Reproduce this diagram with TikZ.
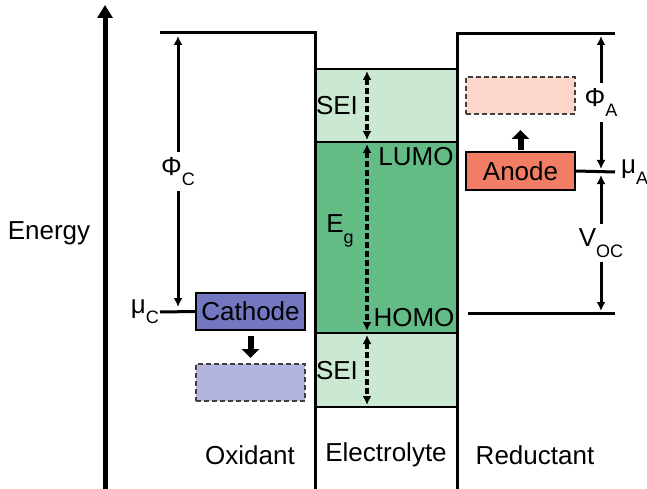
\documentclass[tikz,border=0pt]{standalone}
\usepackage{fontspec}
\setmainfont{Liberation Sans}
\usetikzlibrary{arrows.meta}
\definecolor{seigreen}{HTML}{CBE8D2}
\definecolor{gapgreen}{HTML}{63BC85}
\definecolor{cathblue}{HTML}{7377C0}
\definecolor{cathpale}{HTML}{B3B5E0}
\definecolor{anodered}{HTML}{F27D65}
\definecolor{anodepale}{HTML}{FCD6C8}
\newcommand{\lowsub}[1]{\raisebox{-0.75ex}{\fontsize{18}{20}\selectfont #1}}
\tikzset{
  elec/.style={draw, line width=2pt, minimum width=109pt, minimum height=37pt, inner sep=0pt},
  ghost/.style={draw=black!75, line width=2pt, dash pattern=on 5pt off 3pt, minimum width=109pt, minimum height=37pt},
  level/.style={line width=3pt},
  gaparrow/.style={line width=3pt, <->},
  seiarrow/.style={line width=3.5pt, <->, dash pattern=on 6pt off 3pt},
  movearrow/.style={line width=6pt, -{Triangle[width=17pt,length=9pt]}}
}
\begin{document}
\begin{tikzpicture}[x=1pt, y=-1pt, >={Latex[length=9pt,width=9pt]},
  every node/.style={font=\fontsize{26}{30}\selectfont}]
			\useasboundingbox (0,0) rectangle (647,489);
			% electrolyte window
			\fill[seigreen] (315,69) rectangle (457,142);
			\fill[gapgreen] (315,142) rectangle (457,333);
			\fill[seigreen] (315,333) rectangle (457,407);
			\foreach \y in {69, 142, 333, 407} {
					\draw[line width=2pt] (315,\y) -- (457,\y);
				}
			% energy axis
			\draw[line width=5pt, -{Triangle[width=15pt,length=13pt]}] (105,489) -- (105,5);
			\node (energy) at (49,233) {Energy};
			% oxidant and reductant walls
			\draw[level] (160,33) -- (315,33) -- (315,489);
			\draw[level] (457,489) -- (457,34) -- (615,34);
			\draw[level] (468,313) -- (615,313);
			% electrodes
			\node[elec, fill=cathblue] (cathode) at (250.5,311.5) {Cathode};
			\node[ghost, fill=cathpale] (cathnew) at (250.5,382) {};
			\node[elec, fill=anodered] (anode) at (520.5,171) {Anode};
			\node[ghost, fill=anodepale] (anodenew) at (520.5,95.5) {};
			\coordinate (muC) at (160,312);
			\coordinate (muA) at (615,172);
			\draw[level] (muC) -- (cathode.west);
			\draw[level] (anode.east) -- (muA);
			\node[left, inner sep=1pt] at (muC) {μ\lowsub{C}};
			\node[right, inner sep=6pt] at (muA) {μ\lowsub{A}};
			\draw[movearrow] (cathode.south |- 0,336) -- (cathode.south |- 0,358);
			\draw[movearrow] (anode.north |- 0,150) -- (anode.north |- 0,130);
			% potentials
			\draw[gaparrow] (178,36) -- node[fill=white, inner xsep=0pt, inner ysep=5pt] {Φ\lowsub{C}} (178,307);
			\draw[gaparrow] (601,36) -- node[fill=white, inner xsep=0pt, inner ysep=5pt] {Φ\lowsub{A}} (601,169);
			\draw[gaparrow] (601,175) -- node[fill=white, inner xsep=0pt, inner ysep=5pt] {V\lowsub{OC}} (601,311);
			% SEI and band gap
			\draw[seiarrow] (367,71) -- (367,140);
			\draw[seiarrow] (367,144) -- (367,331);
			\draw[seiarrow] (367,335) -- (367,405);
			\node (seitop) at (337,106) {SEI};
			\node (seibot) at (337,371) {SEI};
			\node (eg) at (340,231) {E\lowsub{g}};
			\node (lumo) at (416,157) {LUMO};
			\node (homo) at (414,318) {HOMO};
			% phases
			\node (oxidant) at (250,455) {Oxidant};
			\node (electrolyte) at (386,455) {Electrolyte};
			\node (reductant) at (535,455) {Reductant};
		\end{tikzpicture}
\end{document}
